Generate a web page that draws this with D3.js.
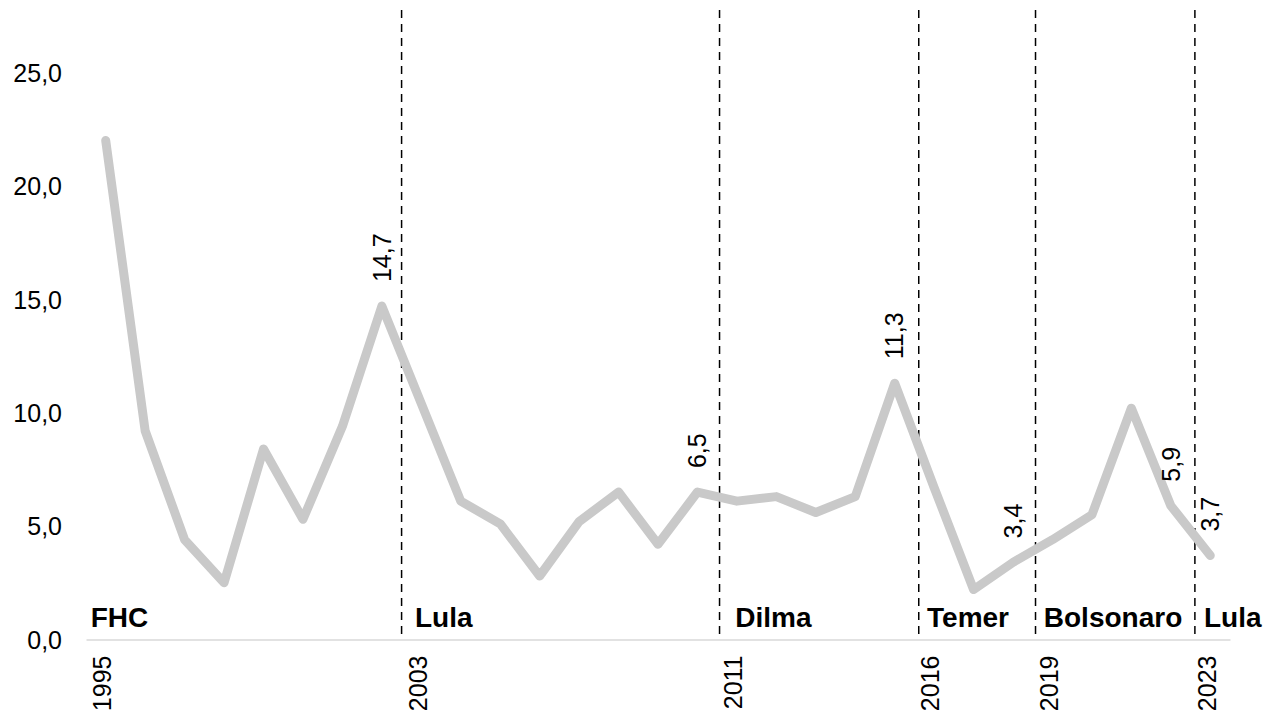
<!DOCTYPE html>
<html>
<head>
<meta charset="utf-8">
<script src="https://cdn.jsdelivr.net/npm/d3@7"></script>
<style>
  html, body { margin: 0; padding: 0; background: #ffffff; }
  svg { display: block; font-family: "Liberation Sans", Arial, sans-serif; }
</style>
</head>
<body>
<svg id="chart" width="1266" height="717"></svg>
<script>
// Annual inflation rate (%) by year
const years = [1995, 1996, 1997, 1998, 1999, 2000, 2001, 2002, 2003, 2004,
               2005, 2006, 2007, 2008, 2009, 2010, 2011, 2012, 2013, 2014,
               2015, 2016, 2017, 2018, 2019, 2020, 2021, 2022, 2023];
const inflation = [22.0, 9.2, 4.4, 2.5, 8.4, 5.3, 9.4, 14.7, 10.4, 6.1,
                   5.1, 2.8, 5.2, 6.5, 4.2, 6.5, 6.1, 6.3, 5.6, 6.3,
                   11.3, 6.7, 2.2, 3.4, 4.4, 5.5, 10.2, 5.9, 3.7];

// Years shown on the horizontal axis and the y-axis ticks
const yearTicks = [1995, 2003, 2011, 2016, 2019, 2023];
const valueTicks = [0, 5, 10, 15, 20, 25];

// Years whose value is written next to the line (end of each term)
const labeledYears = [2002, 2010, 2015, 2018, 2022, 2023];

// Presidential terms: name, where the name sits, and the boundary before it
const termNames = ["FHC", "Lula", "Dilma", "Temer", "Bolsonaro", "Lula"];
const termLabelYear = [1994.62, 2002.84, 2010.96, 2015.82, 2018.78, 2022.84];
const termBoundaries = [2002.5, 2010.56, 2015.61, 2018.57, 2022.61];

const svg = d3.select("#chart");
const W = 1266, H = 717;
svg.append("rect").attr("width", W).attr("height", H).attr("fill", "#ffffff");

const x = d3.scaleLinear().domain([1994.5, 2023.5]).range([86, 1230]);
const y = d3.scaleLinear().domain([0, 25]).range([639.5, 72.5]);

const ptBR = d3.formatLocale({ decimal: ",", thousands: ".", grouping: [3], currency: ["R$", ""] });
const fmt = ptBR.format(".1f");

// Y axis labels
const yAxis = svg.append("g")
  .attr("transform", `translate(${x.range()[0]},0)`)
  .call(d3.axisLeft(y).tickValues(valueTicks).tickSize(0).tickPadding(24).tickFormat(fmt));
yAxis.select(".domain").remove();
yAxis.selectAll("text")
  .attr("font-family", "Liberation Sans, Arial, sans-serif")
  .attr("font-size", 25)
  .attr("fill", "#000")
  .attr("dy", "0.35em");

// X axis baseline and rotated year labels
const xAxis = svg.append("g")
  .attr("transform", `translate(0,${y(0)})`)
  .call(d3.axisBottom(x).tickValues(yearTicks).tickSize(0).tickFormat(d3.format("d")));
xAxis.select(".domain")
  .attr("stroke", "#d9d9d9")
  .attr("stroke-width", 1.5);
xAxis.selectAll("text")
  .attr("font-family", "Liberation Sans, Arial, sans-serif")
  .attr("font-size", 25)
  .attr("fill", "#000")
  .attr("transform", "rotate(-90)")
  .attr("text-anchor", "end")
  .attr("x", -16)
  .attr("y", -4)
  .attr("dy", "0.35em");

// Dashed term boundaries
svg.append("g")
  .selectAll("line")
  .data(termBoundaries)
  .join("line")
  .attr("x1", d => x(d)).attr("x2", d => x(d))
  .attr("y1", 10).attr("y2", y(0))
  .attr("stroke", "#000")
  .attr("stroke-width", 1.5)
  .attr("stroke-dasharray", "8,6");

// Inflation line
const series = years.map((yr, i) => ({ year: yr, value: inflation[i] }));
svg.append("path")
  .datum(series)
  .attr("fill", "none")
  .attr("stroke", "#c9c9c9")
  .attr("stroke-width", 9)
  .attr("stroke-linejoin", "round")
  .attr("stroke-linecap", "round")
  .attr("d", d3.line().x(d => x(d.year)).y(d => y(d.value)));

// Value labels at the end of each term
svg.append("g")
  .selectAll("text")
  .data(series.filter(d => labeledYears.includes(d.year)))
  .join("text")
  .attr("transform", d => `translate(${x(d.year)},${y(d.value) - 24}) rotate(-90)`)
  .attr("text-anchor", "start")
  .attr("dy", "0.35em")
  .attr("font-size", 25)
  .attr("fill", "#000")
  .text(d => fmt(d.value));

// Term names
svg.append("g")
  .selectAll("text")
  .data(termNames.map((name, i) => ({ name, at: termLabelYear[i] })))
  .join("text")
  .attr("x", d => x(d.at))
  .attr("y", 627)
  .attr("font-size", 28)
  .attr("font-weight", "bold")
  .attr("fill", "#000")
  .text(d => d.name);
</script>
</body>
</html>
